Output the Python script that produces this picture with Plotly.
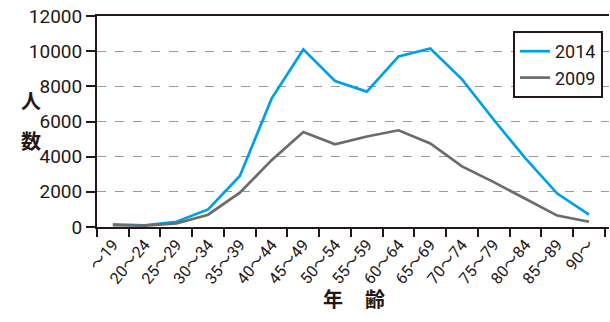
import plotly.graph_objects as go

categories = ["〜19", "20〜24", "25〜29", "30〜34", "35〜39", "40〜44", "45〜49", "50〜54",
              "55〜59", "60〜64", "65〜69", "70〜74", "75〜79", "80〜84", "85〜89", "90〜"]
values_2014 = [150, 100, 300, 1000, 2900, 7300, 10100, 8300, 7700, 9700, 10150, 8400, 6100, 3900, 1900, 700]
values_2009 = [100, 80, 200, 700, 1950, 3800, 5400, 4700, 5150, 5500, 4750, 3450, 2550, 1600, 650, 300]
y_ticks = [0, 2000, 4000, 6000, 8000, 10000, 12000]
y_tick_labels = ["0", "2000", "4000", "6000", "8000", "10000", "12000"]

W, H = 610, 322
L, R, T, B = 97, 1, 16, 95
pw = W - L - R
ph = H - T - B

def px(x):
    return (x - L) / pw

def py(y):
    return (H - B - y) / ph

fig = go.Figure()
fig.add_trace(go.Scatter(x=categories, y=values_2014, mode="lines", name="2014",
                         line=dict(color="#00a0e9", width=2.7)))
fig.add_trace(go.Scatter(x=categories, y=values_2009, mode="lines", name="2009",
                         line=dict(color="#6b6b6b", width=2.7)))

fig.update_layout(
    width=W, height=H,
    margin=dict(l=L, r=R, t=T, b=B, autoexpand=False),
    paper_bgcolor="white", plot_bgcolor="white",
    font=dict(family="Roboto, 'Noto Sans CJK JP'", color="#231815"),
    showlegend=True,
    legend=dict(x=px(603), y=py(31), xanchor="right", yanchor="top",
                bordercolor="#231815", borderwidth=2, bgcolor="white",
                font=dict(size=18, family="Roboto", color="#231815"),
                tracegroupgap=0, itemwidth=30),
    xaxis=dict(type="category", range=[-0.5, 15.63], tickson="boundaries",
               ticks="outside", ticklen=8, tickwidth=2, tickcolor="#231815",
               showline=True, linecolor="#231815", linewidth=2, mirror=True,
               showgrid=False, tickangle=-50, automargin=False,
               tickfont=dict(size=16, family="Roboto, 'Noto Sans CJK JP'", color="#231815")),
    yaxis=dict(range=[0, 12000], tickvals=y_ticks, ticktext=y_tick_labels,
               ticks="outside", ticklen=9, tickwidth=2, automargin=False,
               tickcolor="#231815", showline=True, linecolor="#231815", linewidth=2,
               showgrid=True, gridcolor="#9a9a9a", griddash="dash", gridwidth=1,
               zeroline=False,
               tickfont=dict(size=19, family="Roboto", color="#231815")),
)

for text, x, y in [("人", 20, 100), ("数", 20, 140), ("年", 333, 314), ("齢", 375, 314)]:
    fig.add_annotation(text="<b>" + text + "</b>", xref="paper", yref="paper",
                       x=px(x), y=py(y), showarrow=False, borderpad=0,
                       font=dict(size=20, family="Noto Sans CJK JP", color="#231815"))

fig.write_html("out.html")
